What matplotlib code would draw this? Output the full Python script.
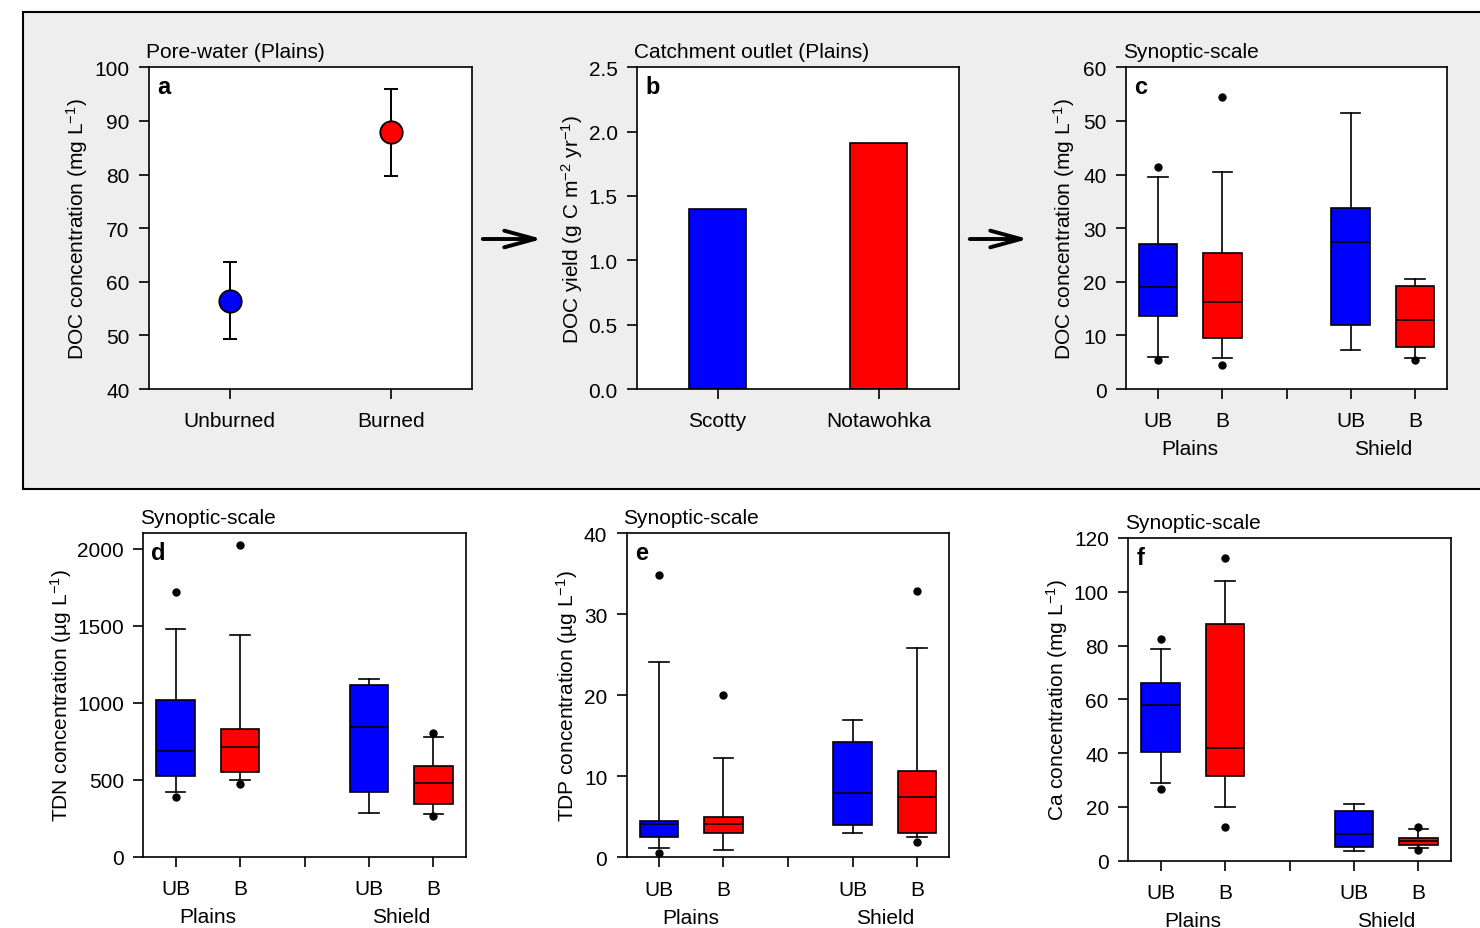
import matplotlib.pyplot as plt
from matplotlib.patches import Rectangle, FancyArrowPatch, ArrowStyle
from matplotlib.ticker import FormatStrFormatter

plt.rcParams['font.family'] = ['Liberation Sans', 'DejaVu Sans']
plt.rcParams['mathtext.fontset'] = 'custom'
plt.rcParams['mathtext.rm'] = 'Liberation Sans'
plt.rcParams['mathtext.it'] = 'Liberation Sans:italic'
plt.rcParams['mathtext.bf'] = 'Liberation Sans:bold'
plt.rcParams['axes.linewidth'] = 1.2

# panel a: pore-water means with error bars
pore_sites = ['Unburned', 'Burned']
pore_mean = [56.5, 88.0]
pore_low = [49.3, 79.8]
pore_high = [63.7, 96.0]

# panel b: catchment outlet yields
outlet_sites = ['Scotty', 'Notawohka']
outlet_yield = [1.40, 1.91]

# box panels: (whisker low, q1, median, q3, whisker high, outliers)
# order: Plains UB, Plains B, Shield UB, Shield B
box_labels = ['UB', 'B', '', 'UB', 'B']
regions = ['Plains', 'Shield']
doc_boxes = [(6.0, 13.6, 19.0, 27.1, 39.5, [41.4, 5.5]),
             (5.8, 9.6, 16.3, 25.4, 40.5, [54.4, 4.5]),
             (7.3, 12.0, 27.5, 33.8, 51.5, []),
             (5.8, 7.9, 12.8, 19.3, 20.6, [5.5])]
tdn_boxes = [(419, 525, 684, 1016, 1479, [1722, 387]),
             (495, 549, 710, 827, 1440, [2022, 473]),
             (284, 419, 840, 1112, 1157, []),
             (276, 341, 478, 586, 775, [806, 263])]
tdp_boxes = [(1.1, 2.5, 4.1, 4.5, 24.1, [34.9, 0.5]),
             (0.95, 3.0, 4.1, 5.0, 12.2, [20.0]),
             (3.05, 4.0, 8.0, 14.2, 16.95, []),
             (2.5, 3.05, 7.5, 10.7, 25.9, [32.9, 1.9])]
ca_boxes = [(28.8, 40.3, 57.9, 66.2, 78.7, [82.3, 26.7]),
            (19.8, 31.5, 41.8, 87.9, 103.9, [112.7, 12.5]),
            (3.6, 5.0, 9.9, 18.6, 21.2, []),
            (4.6, 5.8, 7.4, 8.55, 11.8, [12.4, 4.1])]
box_colors = ['blue', 'red', 'blue', 'red']
box_pos = [1, 2, 4, 5]

FS = 15
LW = 1.2

fig = plt.figure(figsize=(14.8, 9.29), dpi=100)
fig.patches.append(Rectangle((23 / 1480, 1 - 490 / 929), 1.2, 477 / 929,
                             transform=fig.transFigure, facecolor='#eeeeee',
                             edgecolor='black', lw=1.5, zorder=-5))


def style(ax, title, letter, ylabel, lx):
    ax.set_facecolor('white')
    ax.tick_params(axis='both', direction='out', length=7, width=LW,
                   labelsize=FS, top=False, right=False)
    ax.tick_params(axis='x', pad=9)
    ax.tick_params(axis='y', pad=7)
    ax.text(-0.01, 1.02, title, transform=ax.transAxes, fontsize=FS,
            ha='left', va='bottom')
    ax.text(0.025, 0.975, letter, transform=ax.transAxes, fontsize=17,
            fontweight='bold', ha='left', va='top')
    ax.set_ylabel(ylabel, fontsize=FS)
    ax.yaxis.set_label_coords(lx, 0.5)


def box_panel(rect, boxes, ylim, yticks, title, letter, ylabel, lx):
    ax = fig.add_axes(rect)
    stats = []
    for b in boxes:
        stats.append(dict(whislo=b[0], q1=b[1], med=b[2], q3=b[3],
                          whishi=b[4], fliers=b[5]))
    res = ax.bxp(stats, positions=box_pos, widths=0.6, patch_artist=True,
                 manage_ticks=False,
                 boxprops=dict(edgecolor='black', linewidth=LW),
                 medianprops=dict(color='black', linewidth=LW),
                 whiskerprops=dict(color='black', linewidth=LW),
                 capprops=dict(color='black', linewidth=LW),
                 flierprops=dict(marker='o', markerfacecolor='black',
                                 markeredgecolor='black', markersize=5))
    for patch, c in zip(res['boxes'], box_colors):
        patch.set_facecolor(c)
    ax.set_xlim(0.5, 5.5)
    ax.set_ylim(*ylim)
    ax.set_yticks(yticks)
    ax.set_xticks([1, 2, 3, 4, 5])
    ax.set_xticklabels(box_labels)
    for x, r in zip([1.5, 4.5], regions):
        ax.annotate(r, xy=(x, 0), xycoords=('data', 'axes fraction'),
                    xytext=(0, -43), textcoords='offset points',
                    ha='center', va='center', fontsize=FS)
    style(ax, title, letter, ylabel, lx)
    return ax


# panel a
ax = fig.add_axes([149 / 1480, 1 - 390 / 929, 322.5 / 1480, 321.7 / 929])
err = [[m - l for m, l in zip(pore_mean, pore_low)],
       [h - m for m, h in zip(pore_mean, pore_high)]]
ax.errorbar([0, 1], pore_mean, yerr=err, fmt='none', ecolor='black',
            elinewidth=1.4, capsize=5, capthick=1.4)
ax.scatter([0], pore_mean[:1], s=260, color='blue', edgecolor='black',
           linewidth=1.3, zorder=3)
ax.scatter([1], pore_mean[1:], s=260, color='red', edgecolor='black',
           linewidth=1.3, zorder=3)
ax.set_xlim(-0.5, 1.5)
ax.set_ylim(40, 100)
ax.set_yticks(range(40, 101, 10))
ax.set_xticks([0, 1])
ax.set_xticklabels(pore_sites)
style(ax, 'Pore-water (Plains)', 'a', r'DOC concentration (mg L$^{-1}$)', -0.183)

# panel b
ax = fig.add_axes([637 / 1480, 1 - 390 / 929, 322 / 1480, 321.7 / 929])
ax.bar([0, 1], outlet_yield, width=0.36, color=['blue', 'red'],
       edgecolor='black', linewidth=LW)
ax.set_xlim(-0.5, 1.5)
ax.set_ylim(0, 2.5)
ax.set_yticks([0, 0.5, 1.0, 1.5, 2.0, 2.5])
ax.yaxis.set_major_formatter(FormatStrFormatter('%.1f'))
ax.set_xticks([0, 1])
ax.set_xticklabels(outlet_sites)
style(ax, 'Catchment outlet (Plains)', 'b',
      r'DOC yield (g C m$^{-2}$ yr$^{-1}$)', -0.161)

# panel c
box_panel([1126 / 1480, 1 - 390 / 929, 321 / 1480, 321.7 / 929], doc_boxes,
          (0, 60), range(0, 61, 10), 'Synoptic-scale', 'c',
          r'DOC concentration (mg L$^{-1}$)', -0.153)

# panel d
box_panel([143.3 / 1480, 1 - 857.7 / 929, 322.4 / 1480, 323.4 / 929], tdn_boxes,
          (0, 2100), range(0, 2001, 500), 'Synoptic-scale', 'd',
          r'TDN concentration (µg L$^{-1}$)', -0.214)

# panel e
box_panel([626.7 / 1480, 1 - 858.3 / 929, 322.6 / 1480, 324 / 929], tdp_boxes,
          (0, 40), range(0, 41, 10), 'Synoptic-scale', 'e',
          r'TDP concentration (µg L$^{-1}$)', -0.145)

# panel f
box_panel([1128.3 / 1480, 1 - 861.7 / 929, 322.4 / 1480, 322.7 / 929], ca_boxes,
          (0, 120), range(0, 121, 20), 'Synoptic-scale', 'f',
          r'Ca concentration (mg L$^{-1}$)', -0.18)

# arrows linking the top panels
for x0, x1 in [(480, 545), (967, 1031)]:
    arr = FancyArrowPatch((x0 / 1480, 1 - 240 / 929), (x1 / 1480, 1 - 240 / 929),
                          transform=fig.transFigure,
                          arrowstyle=ArrowStyle('->', head_length=2.2, head_width=0.6),
                          mutation_scale=10, lw=2.8, color='black', zorder=2)
    fig.patches.append(arr)

fig.savefig('out.png', dpi=100, facecolor='white')
